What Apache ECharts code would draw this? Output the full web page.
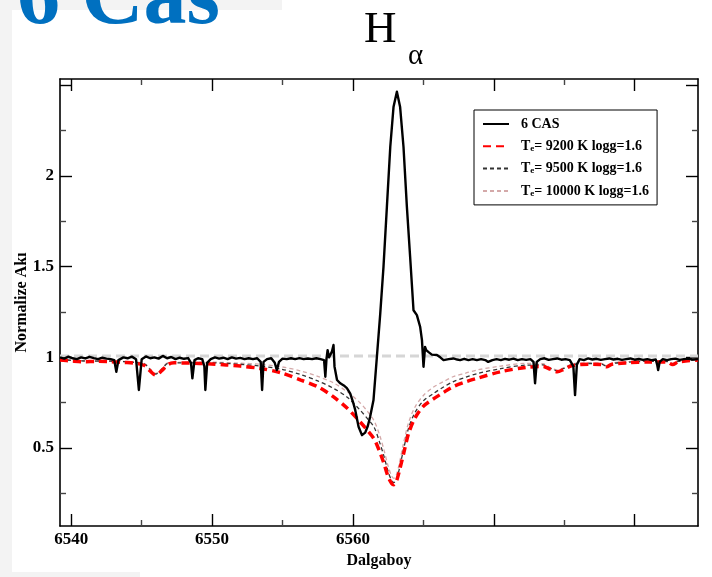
<!DOCTYPE html>
<html>
<head>
<meta charset="utf-8">
<script src="https://cdn.jsdelivr.net/npm/echarts@6/dist/echarts.min.js"></script>
<style>html,body{margin:0;padding:0;background:#fff}#c{width:712px;height:577px}</style>
</head>
<body>
<div id="c"></div>
<script>
// ---- data ----
const xMajorTicks = [6540, 6550, 6560, 6570, 6580];
const xMinorTicks = [6545, 6555, 6565, 6575];
const xTickLabels = [6540, 6550, 6560];
const yMajorTicks = [0.5, 1, 1.5, 2, 2.5];
const yMinorTicks = [0.25, 0.75, 1.25, 1.75, 2.25];
const yTickLabels = [0.5, 1, 1.5, 2];

const obsWave = [6539.2,6539.5,6539.8,6540.1,6540.4,6540.7,6541.0,6541.3,6541.6,6541.9,6542.2,6542.5,6542.8,6543.05,6543.2,6543.35,6543.7,6544.0,6544.3,6544.6,6544.8,6545.0,6545.3,6545.6,6545.9,6546.2,6546.5,6546.8,6547.1,6547.4,6547.7,6548.0,6548.3,6548.5,6548.6,6548.75,6549.0,6549.3,6549.45,6549.52,6549.65,6549.9,6550.2,6550.5,6550.8,6551.1,6551.4,6551.7,6552.0,6552.3,6552.6,6552.9,6553.2,6553.45,6553.55,6553.65,6553.9,6554.2,6554.45,6554.6,6554.75,6555.0,6555.3,6555.6,6555.9,6556.2,6556.5,6556.8,6557.1,6557.4,6557.7,6557.95,6558.04,6558.12,6558.2,6558.3,6558.39,6558.5,6558.62,6558.69,6558.87,6559.1,6559.35,6559.57,6559.81,6560.0,6560.16,6560.4,6560.64,6560.87,6561.05,6561.22,6561.46,6561.7,6561.94,6562.17,6562.41,6562.65,6562.88,6563.12,6563.35,6563.59,6563.83,6564.06,6564.3,6564.54,6564.77,6564.9,6565.01,6565.12,6565.2,6565.35,6565.6,6565.96,6566.2,6566.43,6566.8,6567.13,6567.4,6567.61,6567.9,6568.2,6568.5,6568.8,6569.1,6569.4,6569.6,6569.74,6569.9,6570.2,6570.5,6570.8,6571.1,6571.4,6571.7,6572.0,6572.3,6572.6,6572.82,6572.93,6573.05,6573.3,6573.6,6573.9,6574.2,6574.5,6574.8,6575.1,6575.4,6575.65,6575.77,6575.9,6576.1,6576.4,6576.7,6577.0,6577.3,6577.6,6577.9,6578.2,6578.5,6578.8,6579.1,6579.4,6579.7,6580.0,6580.3,6580.6,6580.9,6581.2,6581.5,6581.6,6581.67,6581.78,6582.0,6582.3,6582.6,6582.9,6583.2,6583.5,6583.8,6584.1,6584.5];
const obsFlux = [1.0,0.993,1.004,0.995,0.99,1.0,0.994,1.003,0.996,0.99,0.998,0.993,0.99,0.985,0.92,0.985,1.0,0.995,1.004,0.99,0.82,0.99,1.005,0.995,1.0,0.993,1.008,0.995,1.002,0.99,0.998,0.992,0.996,0.97,0.884,0.985,0.995,0.99,0.95,0.82,0.97,0.99,1.0,0.993,0.998,0.99,1.0,0.993,0.997,0.99,0.995,0.99,0.995,0.975,0.82,0.975,0.99,0.995,0.97,0.93,0.975,0.993,0.99,0.995,0.99,0.996,0.99,0.994,0.99,0.995,0.99,0.985,0.893,0.99,1.04,1.0,0.99,1.03,1.068,0.95,0.875,0.857,0.845,0.83,0.80,0.755,0.71,0.617,0.571,0.585,0.62,0.672,0.765,1.003,1.243,1.5,1.83,2.16,2.38,2.465,2.38,2.16,1.83,1.555,1.26,1.233,1.169,1.095,0.948,1.058,1.04,1.03,1.015,1.013,1.0,0.985,0.99,0.994,0.988,0.985,0.992,0.985,0.99,0.985,0.99,0.985,0.975,0.967,0.985,0.99,0.985,0.992,0.987,0.993,0.985,0.99,0.986,0.99,0.975,0.857,0.975,0.99,0.995,0.986,0.99,0.994,0.987,0.99,0.985,0.95,0.792,0.96,0.99,0.985,0.994,0.988,0.992,0.986,0.99,0.994,0.988,0.992,0.986,0.99,0.994,0.987,0.991,0.986,0.99,0.985,0.988,0.96,0.93,0.975,0.99,0.985,0.99,0.993,0.986,0.99,0.993,0.988,0.99];

const m9200Wave = [6539.2,6540.0,6540.9,6541.8,6542.7,6543.7,6544.5,6545.2,6545.6,6546.0,6546.4,6546.9,6547.3,6548.5,6549.7,6551.0,6552.0,6553.4,6554.9,6556.3,6557.5,6558.6,6559.6,6560.5,6561.0,6561.5,6561.9,6562.2,6562.5,6562.75,6562.9,6563.05,6563.25,6563.6,6563.95,6564.4,6565.0,6565.7,6566.4,6567.1,6568.0,6568.8,6570.5,6572.3,6573.5,6574.0,6574.5,6575.0,6575.6,6576.8,6577.6,6578.0,6578.4,6579.5,6581.0,6582.3,6582.7,6583.1,6584.5];
const m9200Flux = [0.985,0.98,0.976,0.978,0.977,0.972,0.968,0.955,0.925,0.902,0.925,0.962,0.97,0.968,0.965,0.958,0.952,0.939,0.915,0.875,0.838,0.783,0.719,0.645,0.60,0.55,0.48,0.415,0.341,0.305,0.298,0.31,0.36,0.47,0.58,0.665,0.73,0.77,0.805,0.838,0.865,0.884,0.921,0.945,0.95,0.935,0.921,0.935,0.955,0.962,0.96,0.948,0.962,0.97,0.975,0.974,0.96,0.975,0.985];

const m9500Wave = [6539.2,6540.9,6542.7,6543.7,6545.2,6545.6,6546.0,6546.4,6546.9,6549.7,6552.0,6553.4,6554.9,6556.3,6557.5,6558.6,6559.6,6560.5,6561.0,6561.5,6561.9,6562.2,6562.5,6562.75,6562.9,6563.05,6563.25,6563.6,6563.95,6564.4,6565.0,6565.7,6566.4,6567.1,6568.0,6568.8,6570.5,6572.3,6573.5,6574.0,6574.5,6575.0,6575.6,6576.8,6577.6,6578.0,6578.4,6579.5,6581.0,6582.3,6582.7,6583.1,6584.5];
const m9500Flux = [0.988,0.98,0.979,0.976,0.963,0.932,0.908,0.932,0.968,0.97,0.962,0.952,0.935,0.905,0.87,0.83,0.78,0.71,0.665,0.615,0.53,0.455,0.37,0.32,0.31,0.32,0.37,0.495,0.61,0.695,0.76,0.80,0.835,0.865,0.89,0.91,0.938,0.957,0.958,0.94,0.926,0.94,0.96,0.966,0.964,0.952,0.966,0.973,0.978,0.977,0.963,0.978,0.987];

const m10000Wave = [6539.2,6540.9,6542.7,6543.7,6545.2,6545.6,6546.0,6546.4,6546.9,6549.7,6552.0,6553.4,6554.9,6556.3,6557.5,6558.6,6559.6,6560.5,6561.0,6561.5,6561.9,6562.2,6562.5,6562.75,6562.9,6563.05,6563.25,6563.6,6563.95,6564.4,6565.0,6565.7,6566.4,6567.1,6568.0,6568.8,6570.5,6572.3,6573.5,6574.0,6574.5,6575.0,6575.6,6576.8,6577.6,6578.0,6578.4,6579.5,6581.0,6582.3,6582.7,6583.1,6584.5];
const m10000Flux = [0.99,0.982,0.981,0.978,0.966,0.936,0.912,0.936,0.971,0.974,0.968,0.962,0.948,0.925,0.895,0.86,0.81,0.75,0.705,0.65,0.57,0.49,0.40,0.345,0.333,0.345,0.40,0.53,0.64,0.725,0.79,0.835,0.865,0.893,0.913,0.93,0.952,0.967,0.965,0.944,0.93,0.944,0.964,0.97,0.968,0.956,0.969,0.976,0.98,0.979,0.966,0.98,0.989];

const contWave = [6539.2, 6584.5];
const contFlux = [1.008, 1.008];

const seriesNames = ['6 CAS', 'Te= 9200 K logg=1.6', 'Te= 9500 K logg=1.6', 'Te= 10000 K logg=1.6'];

// ---- chart ----
const FONT = '"Liberation Serif", "Times New Roman", serif';
const zip = (a, b) => a.map((v, i) => [v, b[i]]);
const XMIN = 6539.2, XMAX = 6584.5, YMIN = 0.07, YMAX = 2.535;

function xAx(pos, ticks, len, showLine, labels, extra) {
  return Object.assign({
    type: 'value', position: pos, min: XMIN, max: XMAX,
    splitLine: {show: false},
    axisLine: {show: showLine, onZero: false, lineStyle: {color: '#000', width: 1.6}},
    axisTick: {show: true, inside: true, length: len, customValues: ticks, lineStyle: {color: len > 8 ? '#000' : '#444', width: 1.4}},
    axisLabel: labels ? {show: true, customValues: labels, formatter: v => String(v), color: '#000', fontFamily: FONT, fontWeight: 'bold', fontSize: 17, margin: 5} : {show: false}
  }, extra || {});
}
function yAx(pos, ticks, len, showLine, labels, extra) {
  return Object.assign({
    type: 'value', position: pos, min: YMIN, max: YMAX,
    splitLine: {show: false},
    axisLine: {show: showLine, onZero: false, lineStyle: {color: '#000', width: 1.6}},
    axisTick: {show: true, inside: true, length: len, customValues: ticks, lineStyle: {color: len > 8 ? '#000' : '#444', width: 1.4}},
    axisLabel: labels ? {show: true, customValues: labels, formatter: v => String(v), color: '#000', fontFamily: FONT, fontWeight: 'bold', fontSize: 17, margin: 6} : {show: false}
  }, extra || {});
}

const legendText = {
  '6 CAS': '{t|6 CAS}',
  'Te= 9200 K logg=1.6': '{t|T}{s|e}{t|= 9200 K logg=1.6}',
  'Te= 9500 K logg=1.6': '{t|T}{s|e}{t|= 9500 K logg=1.6}',
  'Te= 10000 K logg=1.6': '{t|T}{s|e}{t|= 10000 K logg=1.6}'
};

const chart = echarts.init(document.getElementById('c'), null, {renderer: 'canvas'});
chart.setOption({
  animation: false,
  backgroundColor: '#fff',
  grid: {left: 60, right: 14, top: 79, bottom: 51, containLabel: false},
  graphic: [
    {type: 'rect', shape: {x: 0, y: 0, width: 12, height: 577}, style: {fill: '#f3f3f3'}, z: -10},
    {type: 'rect', shape: {x: 0, y: 0, width: 282, height: 10}, style: {fill: '#f3f3f3'}, z: -10},
    {type: 'rect', shape: {x: 0, y: 572, width: 140, height: 5}, style: {fill: '#f3f3f3'}, z: -10},
    {type: 'text', x: 17, y: 1, style: {text: '6 Cas', fill: '#0070c0', font: 'bold 86px ' + FONT, textVerticalAlign: 'middle'}, z: 10},
    {type: 'text', x: 364, y: 30, style: {text: 'H', fill: '#000', font: '45px ' + FONT, textVerticalAlign: 'middle'}, z: 10},
    {type: 'text', x: 408, y: 56, style: {text: 'α', fill: '#000', font: '29px ' + FONT, textVerticalAlign: 'middle'}, z: 10}
  ],
  legend: {
    show: true,
    data: seriesNames,
    orient: 'vertical',
    left: 474, top: 110,
    padding: [7, 8, 7, 8],
    itemWidth: 26, itemHeight: 12, itemGap: 6.3,
    borderColor: '#000', borderWidth: 1, backgroundColor: '#fff',
    itemStyle: {color: 'rgba(0,0,0,0)', borderWidth: 0, opacity: 0},
    formatter: function (n) { return legendText[n]; },
    textStyle: {
      color: '#000', fontFamily: FONT, fontWeight: 'bold', fontSize: 14, padding: [0, 0, 0, 7],
      rich: {
        t: {fontFamily: FONT, fontWeight: 'bold', fontSize: 14, color: '#000'},
        s: {fontFamily: FONT, fontWeight: 'bold', fontSize: 9, color: '#000', verticalAlign: 'bottom', lineHeight: 10, padding: [7, 0, 0, 0]}
      }
    }
  },
  xAxis: [
    xAx('bottom', xMajorTicks, 12, true, xTickLabels, {name: 'Dalgaboy', nameLocation: 'middle', nameGap: 27, nameMoveOverlap: false, nameTextStyle: {color: '#000', fontFamily: FONT, fontWeight: 'bold', fontSize: 16}}),
    xAx('bottom', xMinorTicks, 6, false, null),
    xAx('top', xMajorTicks, 12, true, null),
    xAx('top', xMinorTicks, 6, false, null)
  ],
  yAxis: [
    yAx('left', yMajorTicks, 12, true, yTickLabels, {name: 'Normalize Akı', nameLocation: 'middle', nameGap: 30, nameMoveOverlap: false, nameTextStyle: {color: '#000', fontFamily: FONT, fontWeight: 'bold', fontSize: 16}}),
    yAx('left', yMinorTicks, 6, false, null),
    yAx('right', yMajorTicks, 12, true, null),
    yAx('right', yMinorTicks, 6, false, null)
  ],
  series: [
    {name: 'continuum', type: 'line', xAxisIndex: 0, yAxisIndex: 0, data: zip(contWave, contFlux), showSymbol: false, symbol: 'none',
     lineStyle: {color: '#d6d6d6', width: 3, type: [9, 5]}, z: 1, silent: true},
    {name: seriesNames[3], type: 'line', xAxisIndex: 0, yAxisIndex: 0, data: zip(m10000Wave, m10000Flux), showSymbol: false, symbol: 'none', smooth: 0.3,
     lineStyle: {color: '#d4a9a9', width: 1.3, type: [4, 3]}, itemStyle: {color: '#d4a9a9'}, z: 2},
    {name: seriesNames[2], type: 'line', xAxisIndex: 0, yAxisIndex: 0, data: zip(m9500Wave, m9500Flux), showSymbol: false, symbol: 'none', smooth: 0.3,
     lineStyle: {color: '#333', width: 1.3, type: [4, 3]}, itemStyle: {color: '#333'}, z: 3},
    {name: seriesNames[1], type: 'line', xAxisIndex: 0, yAxisIndex: 0, data: zip(m9200Wave, m9200Flux), showSymbol: false, symbol: 'none', smooth: 0.3,
     lineStyle: {color: '#ff0000', width: 3.5, type: [8, 5]}, itemStyle: {color: '#ff0000'}, z: 4},
    {name: seriesNames[0], type: 'line', xAxisIndex: 0, yAxisIndex: 0, data: zip(obsWave, obsFlux), showSymbol: false, symbol: 'none',
     lineStyle: {color: '#000', width: 2.4, join: 'round'}, itemStyle: {color: '#000'}, z: 5}
  ]
});
</script>
</body>
</html>
